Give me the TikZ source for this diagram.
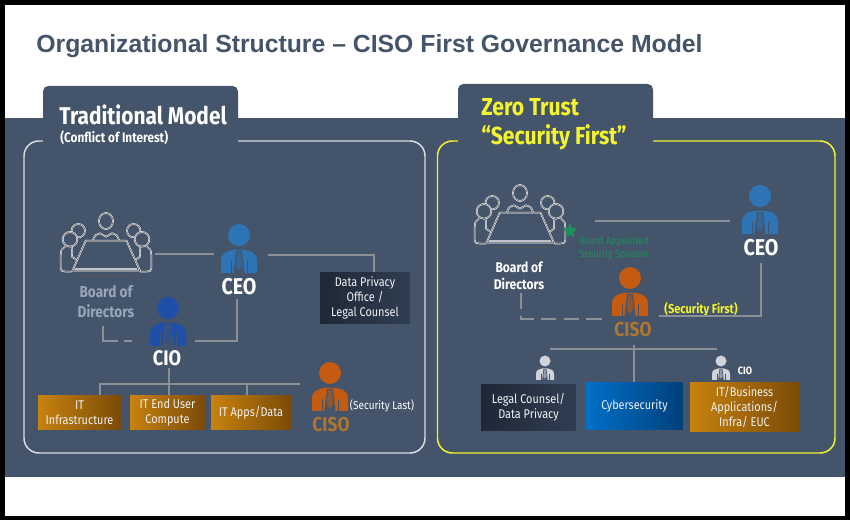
\documentclass[tikz,border=0pt]{standalone}
\usepackage{fontspec}
\usepackage{xcolor}
\usetikzlibrary{shapes.geometric}
\setmainfont{Liberation Sans}
\newfontfamily\din[FakeStretch=0.86]{Fira Sans}

\definecolor{panel}{HTML}{44546A}
\definecolor{linkgray}{HTML}{8C9096}
\definecolor{bossblue}{HTML}{2E75B6}
\definecolor{cioblue}{HTML}{1F4FA8}
\definecolor{cisoorange}{HTML}{C55A11}
\definecolor{cisotext}{HTML}{AD7632}
\definecolor{boardtext}{HTML}{98A6BC}
\definecolor{zeroyellow}{HTML}{F4F42E}
\definecolor{sponsorgreen}{HTML}{1E8F5C}
\definecolor{itorange}{HTML}{C8820E}
\definecolor{itbrown}{HTML}{7A4B07}
\definecolor{cyberblue}{HTML}{0070C8}
\definecolor{cybernavy}{HTML}{003F7A}
\definecolor{darkleft}{HTML}{1E2836}
\definecolor{darkright}{HTML}{303E52}

\tikzset{
    tag/.style={font=\din\fontsize{#1}{#1}\selectfont, inner sep=0pt, text=white},
    boldtag/.style={font=\din\bfseries\fontsize{#1}{#1}\selectfont, inner sep=0pt, text=white},
    boxtext/.style={font=\din\fontsize{7.2}{8.4}\selectfont, align=center, text=white!92!panel, inner sep=0pt},
    orangebox/.style={boxtext, left color=itorange, right color=itbrown, minimum height=0.7cm},
    darkbox/.style={boxtext, left color=darkleft, right color=darkright},
    link/.style={draw=linkgray, line width=0.85pt},
    frameline/.style={line width=0.85pt, rounded corners=8.5pt},
    seat/.style={draw=white, double=black!65, double distance=0.3pt, line width=0.3pt},
    pics/person/.style={code={
        \fill[#1] (0,0) circle (11);
        \fill[#1] (-18,38) -- (-18,26) .. controls (-18,18) and (-12,16) .. (-6,15) -- (6,15) .. controls (12,16) and (18,18) .. (18,26) -- (18,38) -- cycle;
        \fill[panel] (-5.5,38) -- (-3,16) -- (3,16) -- (5.5,38) -- cycle;
        \fill[#1!55!panel] (-1.8,17) -- (1.8,17) -- (3.5,31) -- (0,36) -- (-3.5,31) -- cycle;
        \draw[panel, line width=0.5pt] (-8,38) -- (-8,26);
        \draw[panel, line width=0.5pt] (8,38) -- (8,26);
    }},
    pics/board/.style={code={
        \draw[seat, fill=panel] (-27.7,9.7) circle (6.7);
        \draw[seat, fill=panel] (27.7,9.7) circle (6.7);
        \draw[seat] (-34.3,25.7) -- (-34,35.7) -- (-29.3,39);
        \draw[seat] (34.3,25.7) -- (34,35.7) -- (29.3,39);
        \draw[seat, fill=panel] (-41,25.7) .. controls (-45,29) .. (-45.3,34) -- (-45.3,47.3) .. controls (-45,50) .. (-39.3,50.7) -- (-34.3,50.7);
        \draw[seat, fill=panel] (41,25.7) .. controls (45,29) .. (45.3,34) -- (45.3,47.3) .. controls (45,50) .. (39.3,50.7) -- (34.3,50.7);
        \draw[seat, fill=panel] (-36,18.3) circle (7.3);
        \draw[seat, fill=panel] (36,18.3) circle (7.3);
        \draw[seat, fill=panel] (0,0) ellipse (7 and 8);
        \draw[seat, fill=panel] (-13,19) .. controls (-11,14) .. (-6,12.3) -- (0,15.7) -- (6,12.3) .. controls (11,14) .. (13,19);
        \draw[seat, fill=panel] (-20.3,19.7) -- (20.5,19.7) -- (34,49.7) -- (-33.5,49.7) -- cycle;
        \draw[line width=0.9pt, white!65!panel] (-31,47.8) -- (31,47.8);
        \draw[seat] (-26.7,54.7) -- (26.7,54.7);
    }}
}

\begin{document}
\begin{tikzpicture}[x=0.02cm, y=-0.02cm]
    \useasboundingbox (0,0) rectangle (850,520);
    \fill[black] (0,0) rectangle (850,520);
    \fill[white] (5,5) rectangle (845,516);
    \fill[panel] (5,118) rectangle (845,477);

    \draw (36,46) node[anchor=west, inner sep=0pt, text=panel, font=\bfseries\fontsize{14.1}{14.1}\selectfont] (title) {Organizational Structure -- CISO First Governance Model};

    % frames and their tabs
    \draw[frameline, white!80!panel] (24,141) rectangle (425,453);
    \draw[frameline, zeroyellow] (437.5,141) rectangle (835,453);
    \fill[panel, rounded corners=3pt] (43,150) -- (43,86) -- (238,86) -- (238,150) -- cycle;
    \fill[panel, rounded corners=3pt] (458,150) -- (458,84) -- (653,84) -- (653,150) -- cycle;

    \draw (59,115) node[anchor=west, boldtag=13.8] (tradTitle) {Traditional Model};
    \draw (60,138) node[anchor=west, boldtag=7.8] (tradSub) {(Conflict of Interest)};
    \draw (481,107) node[anchor=west, boldtag=14, text=zeroyellow] (zeroTitle) {Zero Trust};
    \draw (481,137) node[anchor=west, boldtag=14, text=zeroyellow] (zeroSub) {“Security First”};

    % traditional model
    \pic at (106,221) {board};
    \pic at (239,235) {person=bossblue};
    \pic at (168,308) {person=cioblue};
    \pic at (330,373) {person=cisoorange};

    \draw (106,292) node[boldtag=9, text=boardtext] (boardA) {Board of};
    \draw (106,311) node[boldtag=9, text=boardtext] (boardB) {Directors};
    \draw (239,287) node[boldtag=13] (ceoA) {CEO};
    \draw (167,358) node[boldtag=12] (cioA) {CIO};
    \draw (331,425) node[boldtag=11.5, text=cisotext] (cisoA) {CISO};
    \draw (382,406) node[tag=6.6] (lastA) {(Security Last)};

    \draw (365,298) node[darkbox, minimum width=1.8cm, minimum height=1.02cm] (privacy) {Data Privacy\\Office /\\Legal Counsel};
    \draw (79.5,412.5) node[orangebox, minimum width=1.66cm] (infra) {IT\\Infrastructure};
    \draw (167.5,412.5) node[orangebox, minimum width=1.5cm] (euc) {IT End User\\Compute};
    \draw (251,412.5) node[orangebox, minimum width=1.6cm] (apps) {IT Apps/Data};

    \coordinate (boardE) at (155,254);
    \coordinate (ceoW) at (214,254);
    \coordinate (ceoE) at (268,255);
    \coordinate (privacyN) at (374,272);
    \coordinate (ceoS) at (237,299);
    \coordinate (cioE) at (195,341);
    \coordinate (boardS) at (103,326);
    \coordinate (cioW) at (133,341);
    \coordinate (cioS) at (169,368);
    \coordinate (busW) at (100,384);
    \coordinate (busE) at (300,384);
    \coordinate (busApps) at (247,384);

    \draw[link] (boardE) -- (ceoW);
    \draw[link] (ceoE) -| (privacyN);
    \draw[link] (ceoS) |- (cioE);
    \draw[link, dash pattern=on 17pt off 3.4pt on 4.5pt off 3pt] (boardS) |- (cioW);
    \draw[link] (cioS) -- (cioS |- euc.north);
    \draw[link] (busW |- infra.north) |- (busE);
    \draw[link] (busApps) -- (busApps |- apps.north);

    % zero trust model
    \pic at (520,193) {board};
    \pic at (760,196) {person=bossblue};
    \pic at (630,278) {person=cisoorange};
    \pic[scale=0.5] at (545,361) {person=white!75!panel};
    \pic[scale=0.5] at (721,361) {person=white!75!panel};

    \draw (570,231) node[star, star points=5, star point ratio=2.2, fill=sponsorgreen, inner sep=0pt, minimum size=0.32cm] (sponsorStar) {};
    \draw (579,248) node[anchor=west, align=left, inner sep=0pt, text=sponsorgreen, font=\din\fontsize{6}{6.9}\selectfont] (sponsor) {Board Appointed\\Security Sponsor};
    \draw (519,267) node[boldtag=8] (boardC) {Board of};
    \draw (519,284) node[boldtag=8] (boardD) {Directors};
    \draw (761,248) node[boldtag=13] (ceoB) {CEO};
    \draw (633,330) node[boldtag=11.5, text=cisotext] (cisoB) {CISO};
    \draw (701,309) node[boldtag=7.3, text=zeroyellow] (firstB) {(Security First)};
    \draw (745,371) node[boldtag=6] (cioB) {CIO};

    \draw (528.5,407.5) node[darkbox, minimum width=1.9cm, minimum height=0.94cm] (legal) {Legal Counsel/\\Data Privacy};
    \draw (634.5,406) node[boxtext, left color=cyberblue, right color=cybernavy, minimum width=1.94cm, minimum height=0.96cm] (cyber) {Cybersecurity};
    \draw (744.5,407) node[orangebox, minimum width=2.18cm, minimum height=1cm] (itbiz) {IT/Business\\Applications/\\Infra/ EUC};

    \coordinate (zboardE) at (595,221);
    \coordinate (zceoW) at (730,221);
    \coordinate (zboardS) at (521,293);
    \coordinate (zcisoW) at (603,319);
    \coordinate (zcisoE) at (659,316);
    \coordinate (zceoS) at (761,263);
    \coordinate (zbusW) at (550,349);
    \coordinate (zbusE) at (717,349);
    \coordinate (zcisoS) at (634,345);

    \draw[link] (zboardE) -- (zceoW);
    \draw[link] (zceoS) |- (zcisoE);
    \draw[link, dash pattern=on 9pt off 4pt] (zboardS) |- (zcisoW);
    \draw[link] (zbusW) -- (zbusE);
    \draw[link] (zcisoS) -- (zcisoS |- cyber.north);
\end{tikzpicture}
\end{document}
